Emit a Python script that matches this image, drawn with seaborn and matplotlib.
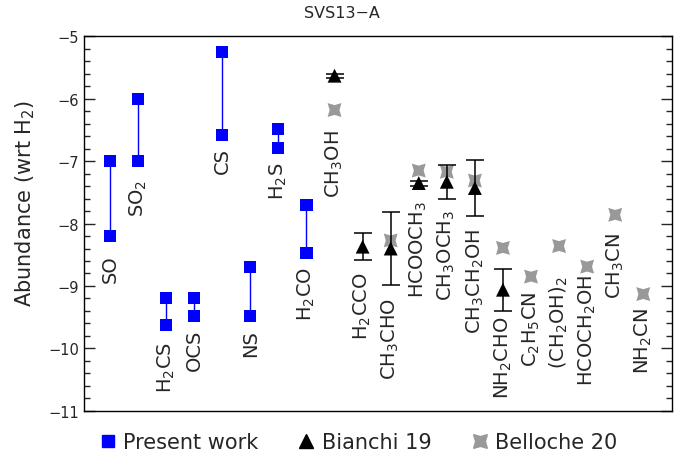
import pandas as pd
import seaborn as sns
import matplotlib.pyplot as plt
from matplotlib.lines import Line2D
from matplotlib.ticker import MultipleLocator

# molecules along the x axis, in plotting order
molecules = ["SO", "SO$_2$", "H$_2$CS", "OCS", "CS", "NS", "H$_2$S", "H$_2$CO",
             "CH$_3$OH", "H$_2$CCO", "CH$_3$CHO", "HCOOCH$_3$", "CH$_3$OCH$_3$",
             "CH$_3$CH$_2$OH", "NH$_2$CHO", "C$_2$H$_5$CN", "(CH$_2$OH)$_2$",
             "HCOCH$_2$OH", "CH$_3$CN", "NH$_2$CN"]

# present work: range of abundances (log10)
present_mol = ["SO", "SO$_2$", "H$_2$CS", "OCS", "CS", "NS", "H$_2$S", "H$_2$CO"]
present_hi = [-7.0, -6.0, -9.2, -9.2, -5.25, -8.7, -6.49, -7.70]
present_lo = [-8.2, -7.0, -9.63, -9.48, -6.58, -9.48, -6.79, -8.47]

# Bianchi 19
bianchi_mol = ["CH$_3$OH", "H$_2$CCO", "CH$_3$CHO", "HCOOCH$_3$", "CH$_3$OCH$_3$",
               "CH$_3$CH$_2$OH", "NH$_2$CHO"]
bianchi_val = [-5.63, -8.37, -8.40, -7.35, -7.33, -7.43, -9.06]
bianchi_err = [0.03, 0.22, 0.58, 0.04, 0.27, 0.45, 0.34]

# Belloche 20
belloche_mol = ["CH$_3$OH", "CH$_3$CHO", "HCOOCH$_3$", "CH$_3$OCH$_3$", "CH$_3$CH$_2$OH",
                "NH$_2$CHO", "C$_2$H$_5$CN", "(CH$_2$OH)$_2$", "HCOCH$_2$OH",
                "CH$_3$CN", "NH$_2$CN"]
belloche_val = [-6.18, -8.27, -7.15, -7.17, -7.31, -8.39, -8.85, -8.36, -8.69, -7.86, -9.13]

# where the top of each rotated label sits (data units)
label_top = [-8.49, -7.29, -9.88, -9.69, -6.77, -9.69, -7.01, -8.68, -6.49, -8.76,
             -9.18, -7.63, -7.77, -8.06, -9.48, -9.08, -8.84, -8.81, -8.14, -9.34]

sns.set_style("ticks")
plt.rcParams["font.family"] = ["DejaVu Sans"]
plt.rcParams["mathtext.default"] = "regular"

pos = {m: i + 1 for i, m in enumerate(molecules)}

present = pd.DataFrame({"mol": present_mol, "high": present_hi, "low": present_lo})
present["x"] = present["mol"].map(pos)
pts = present.melt(id_vars=["mol", "x"], value_vars=["high", "low"], value_name="abund")

bia = pd.DataFrame({"mol": bianchi_mol, "abund": bianchi_val, "err": bianchi_err})
bia["x"] = bia["mol"].map(pos)

bel = pd.DataFrame({"mol": belloche_mol, "abund": belloche_val})
bel["x"] = bel["mol"].map(pos)

grey = "#999999"
star = (4, 1, 45)

fig, ax = plt.subplots(figsize=(6.88, 4.56), dpi=100)
fig.subplots_adjust(left=0.122, right=0.977, top=0.918, bottom=0.097)

ax.vlines(present["x"], present["low"], present["high"], color="blue", lw=1, zorder=2)
sns.scatterplot(data=pts, x="x", y="abund", marker="s", color="blue", s=75,
                edgecolor="none", linewidth=0, ax=ax, zorder=3)
sns.scatterplot(data=bel, x="x", y="abund", marker=star, color=grey, s=200,
                edgecolor="none", linewidth=0, ax=ax, zorder=3)
ax.errorbar(bia["x"], bia["abund"], yerr=bia["err"], fmt="none", ecolor="black",
            elinewidth=1.1, capsize=6.5, capthick=1.1, zorder=4)
sns.scatterplot(data=bia, x="x", y="abund", marker="^", color="black", s=100,
                edgecolor="none", linewidth=0, ax=ax, zorder=5)

for i, m in enumerate(molecules):
    ax.text(i + 1, label_top[i], m, rotation=90, ha="center", va="top", fontsize=14)

ax.set_xlim(0.07, 21.03)
ax.set_ylim(-11, -5)
ax.set_xticks([])
ax.set_xlabel("")
ax.set_ylabel("")
ax.yaxis.set_major_locator(MultipleLocator(1))
ax.yaxis.set_minor_locator(MultipleLocator(0.2))
ax.tick_params(axis="y", which="both", direction="in", left=True, right=True, width=1)
ax.tick_params(axis="y", which="major", length=8, labelsize=10.5)
ax.tick_params(axis="y", which="minor", length=4.5)
for sp in ax.spines.values():
    sp.set_visible(True)
    sp.set_linewidth(1)
    sp.set_color("black")

fig.text(0.037, 0.553, "Abundance (wrt H$_2$)", rotation=90, ha="center", va="center",
         fontsize=15)
fig.text(0.497, 0.97, "SVS13\u2212A", ha="center", va="center", fontsize=11.5)

handles = [
    Line2D([], [], marker="s", color="blue", ls="none", ms=9),
    Line2D([], [], marker="^", color="black", ls="none", ms=10),
    Line2D([], [], marker=star, color=grey, ls="none", ms=14),
]
fig.legend(handles, ["Present work", "Bianchi 19", "Belloche 20"], loc="center",
           bbox_to_anchor=(0.521, 0.028), ncol=3, frameon=False, fontsize=15,
           handlelength=0.8, handletextpad=0.35, columnspacing=1.9, borderpad=0)

fig.savefig("out.png", dpi=100)
